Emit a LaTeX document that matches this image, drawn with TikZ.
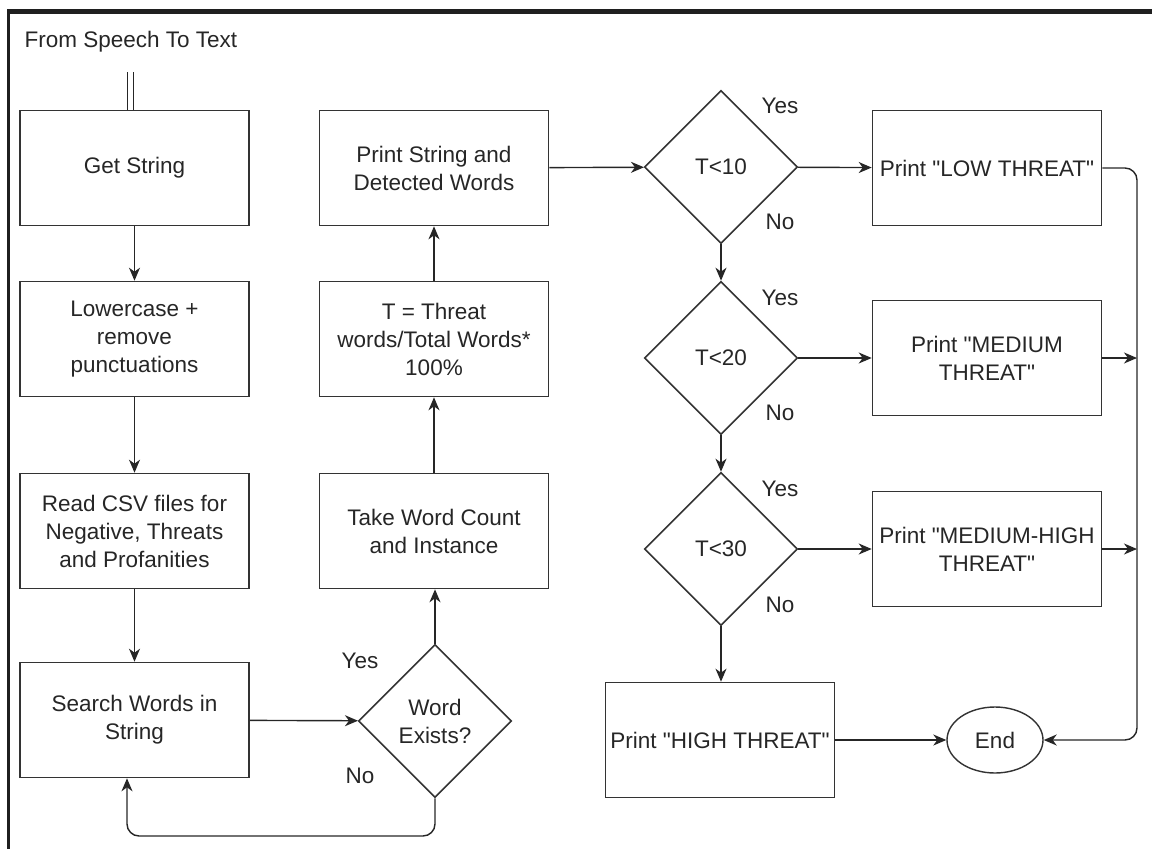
\documentclass[tikz,border=0pt]{standalone}
\usepackage{fontspec}
\setmainfont{Liberation Sans}[Ligatures=TeXOff]
\usetikzlibrary{arrows.meta,shapes.geometric,positioning}
\begin{document}
\begin{tikzpicture}[x=1pt,y=-1pt,
  every node/.style={font=\fontsize{22.5}{28}\selectfont, text=black!85},
  box/.style={draw=black!80, line width=1.6pt, minimum width=229pt, minimum height=115pt, align=center, inner sep=1pt},
  dec/.style={draw=black!80, line width=1.6pt, diamond, aspect=1, minimum width=153pt, minimum height=153pt, inner sep=0pt, align=center},
  term/.style={draw=black!80, line width=1.4pt, ellipse, minimum width=96pt, minimum height=66pt, inner sep=0pt},
  lbl/.style={font=\fontsize{22.5}{26}\selectfont},
  arr/.style={draw=black!85, line width=1.4pt, -{Stealth[length=13pt,width=11pt,inset=4pt]}},
]
\useasboundingbox (0,0) rectangle (1152,849);
% frame
\fill[black!88] (7,9) rectangle (1152,14);
\fill[black!88] (7,9) rectangle (10,849);

\node[anchor=west, font=\fontsize{22.5}{26}\selectfont] (title) at (21,42) {From Speech To Text};

% left column
\node[box] (get) at (134.5,168) {Get String};
\node[box] (low) at (134.5,339) {Lowercase +\\remove\\punctuations};
\node[box] (csv) at (134.5,531) {Read CSV files for\\Negative, Threats\\and Profanities};
\node[box] (srch) at (134.5,720) {Search Words in\\String};

% middle column
\node[dec] (we) at (435,721) {Word\\Exists?};
\node[box] (cnt) at (434,531) {Take Word Count\\and Instance};
\node[box] (tcal) at (434,339) {T = Threat\\words/Total Words*\\100\%};
\node[box] (prt) at (434,168) {Print String and\\Detected Words};

% decisions
\node[dec] (d10) at (721,167) {T<10};
\node[dec] (d20) at (721,358) {T<20};
\node[dec] (d30) at (721,549) {T<30};

% outputs
\node[box] (lowt) at (987,168) {Print "LOW THREAT"};
\node[box] (medt) at (987,358) {Print "MEDIUM\\THREAT"};
\node[box] (mht) at (987,549) {Print "MEDIUM-HIGH\\THREAT"};
\node[box] (hight) at (720,740) {Print "HIGH THREAT"};
\node[term] (end) at (995,740) {End};

% labels
\node[lbl] (y0) at (360,661) {Yes};
\node[lbl] (n0) at (360,776) {No};
\node[lbl] (y1) at (780,106) {Yes};
\node[lbl] (n1) at (780,222) {No};
\node[lbl] (y2) at (780,298) {Yes};
\node[lbl] (n2) at (780,413) {No};
\node[lbl] (y3) at (780,489) {Yes};
\node[lbl] (n3) at (780,605) {No};

% start double line
\coordinate (s) at (130.5,72);
\draw[draw=black!85, line width=1.4pt, double distance=4.5pt] (s) -- (s |- get.north);

% connectors
\draw[arr] (get) -- (low);
\draw[arr] (low) -- (csv);
\draw[arr] (csv) -- (srch);
\draw[arr] (srch) -- (we);
\draw[arr] (we.north) -- (we.north |- cnt.south);
\draw[arr] (cnt) -- (tcal);
\draw[arr] (tcal) -- (prt);
\coordinate (b1) at (435,836);
\coordinate (b2) at (127,836);
\draw[arr, rounded corners=12pt] (we.south) -- (b1) -- (b2) -- (b2 |- srch.south);
\draw[arr] (prt) -- (d10);
\draw[arr] (d10) -- (lowt);
\draw[arr] (d10) -- (d20);
\draw[arr] (d20) -- (medt);
\draw[arr] (d20) -- (d30);
\draw[arr] (d30) -- (mht);
\draw[arr] (d30.south) -- (d30.south |- hight.north);
\draw[arr] (hight) -- (end);
\coordinate (rt) at (1137,168);
\coordinate (rb) at (1137,740);
\draw[arr, rounded corners=12pt] (lowt.east) -- (rt) -- (rb) -- (end.east);
\draw[arr] (medt.east) -- (medt.east -| rt);
\draw[arr] (mht.east) -- (mht.east -| rt);
\end{tikzpicture}
\end{document}
